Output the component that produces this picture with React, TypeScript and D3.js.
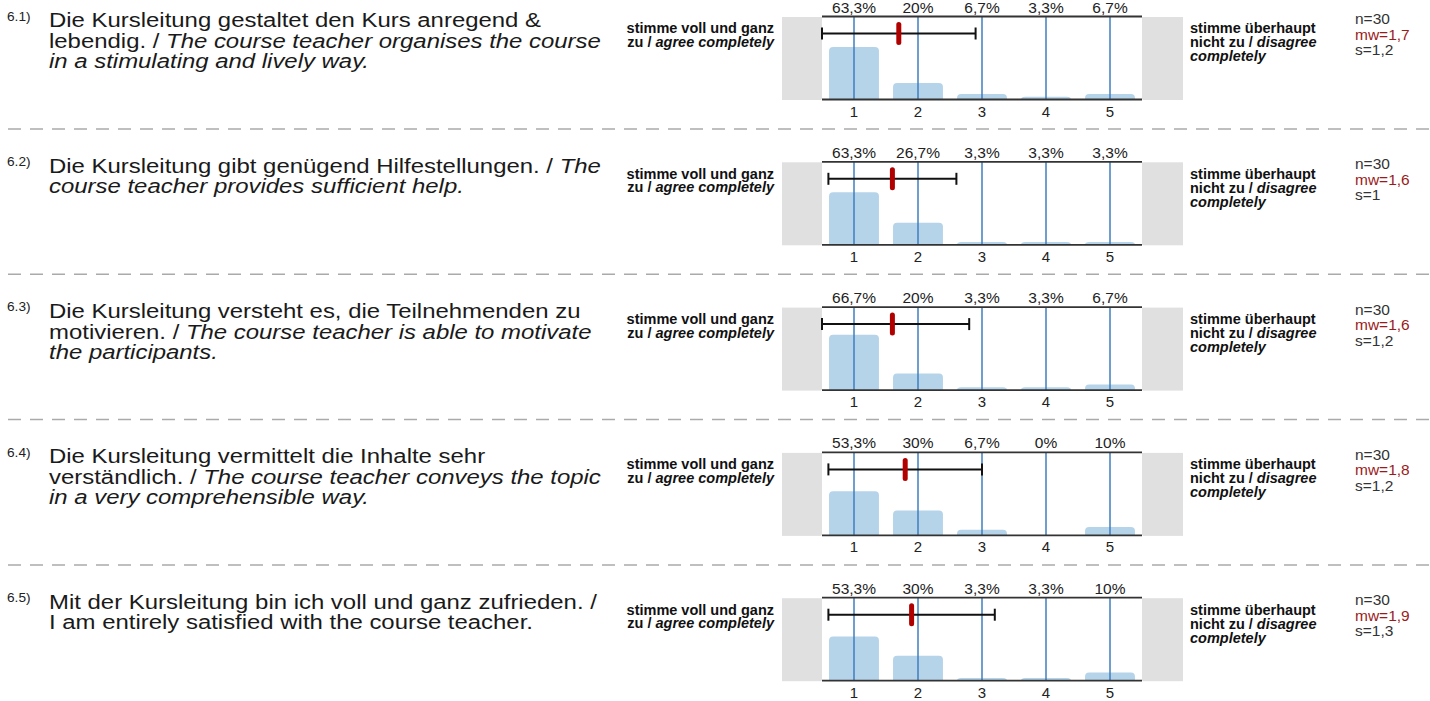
import React from 'react';
import * as d3 from 'd3';

// --- data ---
const categories = [1, 2, 3, 4, 5];

const itemIds = ['6.1)', '6.2)', '6.3)', '6.4)', '6.5)'];

// question text, line by line; [regular, italic]
const questionLines: Array<Array<[string, string]>> = [
  [
    ['Die Kursleitung gestaltet den Kurs anregend &', ''],
    ['lebendig. / ', 'The course teacher organises the course'],
    ['', 'in a stimulating and lively way.'],
  ],
  [
    ['Die Kursleitung gibt genügend Hilfestellungen. / ', 'The'],
    ['', 'course teacher provides sufficient help.'],
  ],
  [
    ['Die Kursleitung versteht es, die Teilnehmenden zu', ''],
    ['motivieren. / ', 'The course teacher is able to motivate'],
    ['', 'the participants.'],
  ],
  [
    ['Die Kursleitung vermittelt die Inhalte sehr', ''],
    ['verständlich. / ', 'The course teacher conveys the topic'],
    ['', 'in a very comprehensible way.'],
  ],
  [
    ['Mit der Kursleitung bin ich voll und ganz zufrieden. /', ''],
    ['I am entirely satisfied with the course teacher.', ''],
  ],
];

const percents = [
  [63.3, 20, 6.7, 3.3, 6.7],
  [63.3, 26.7, 3.3, 3.3, 3.3],
  [66.7, 20, 3.3, 3.3, 6.7],
  [53.3, 30, 6.7, 0, 10],
  [53.3, 30, 3.3, 3.3, 10],
];

const nValues = [30, 30, 30, 30, 30];
const means = [1.7, 1.6, 1.6, 1.8, 1.9];
const stdDevs = [1.2, 1, 1.2, 1.2, 1.3];

const fmt = (v: number) => String(v).replace('.', ',');

const W = 1430;
const H = 701;
const panelTop = 16.5;
const panelStep = 145.3;
const plotH = 83;
const stretch = 1.14; // question text is drawn a bit wide

const x = d3.scaleLinear().domain([0.5, 5.5]).range([822, 1142]);
const bandW = x(1.5) - x(0.5);
const barW = bandW * 0.78;

const Panel: React.FC<{ i: number }> = ({ i }) => {
  const top = panelTop + i * panelStep;
  const bottom = top + plotH;
  const y = d3.scaleLinear().domain([0, 100]).range([bottom, top]);
  const lo = Math.max(0.5, means[i] - stdDevs[i]);
  const hi = Math.min(5.5, means[i] + stdDevs[i]);
  const ey = top + 17;
  const lbl = { fontSize: 14.5, fontWeight: 'bold' as const, fill: '#111' };

  return (
    <g>
      {/* question */}
      <g transform={`translate(7,0) scale(${stretch},1)`}>
        <text x={0} y={top + 4.2} fontSize={12} fill="#222">{itemIds[i]}</text>
      </g>
      <g transform={`translate(49,0) scale(${stretch},1)`}>
        {questionLines[i].map((ln, k) => (
          <text key={k} x={0} y={top + 11 + k * 20.5} fontSize={21} fill="#1a1a1a">
            {ln[0] && <tspan>{ln[0]}</tspan>}
            {ln[1] && <tspan fontStyle="italic">{ln[1]}</tspan>}
          </text>
        ))}
      </g>

      {/* left / right anchors */}
      <rect x={782} y={top + 0.5} width={x(0.5) - 782} height={plotH} fill="#e0e0e0" />
      <rect x={x(5.5)} y={top + 0.5} width={1183 - x(5.5)} height={plotH} fill="#e0e0e0" />
      <text x={774} y={top + 16.8} textAnchor="end" {...lbl}>
        stimme voll und ganz
      </text>
      <text x={774} y={top + 30.5} textAnchor="end" {...lbl}>
        zu / <tspan fontStyle="italic">agree completely</tspan>
      </text>
      <text x={1190} y={top + 16.8} {...lbl}>
        stimme überhaupt
      </text>
      <text x={1190} y={top + 30.8} {...lbl}>
        nicht zu / <tspan fontStyle="italic">disagree</tspan>
      </text>
      <text x={1190} y={top + 44.8} fontStyle="italic" {...lbl}>
        completely
      </text>

      {/* bars */}
      {categories.map((c, k) =>
        percents[i][k] > 0 ? (
          <rect
            key={c}
            x={x(c) - barW / 2}
            y={y(percents[i][k])}
            width={barW}
            height={bottom - y(percents[i][k]) + 3}
            rx={4}
            fill="#b5d4ea"
          />
        ) : null
      )}
      <rect x={x(0.5) - 1} y={bottom} width={x(5.5) - x(0.5) + 2} height={6} fill="#fff" />

      {/* vertical grid lines */}
      {categories.map(c => (
        <line key={c} x1={x(c)} x2={x(c)} y1={top} y2={bottom} stroke="#3f7fbf" strokeWidth={1.5} />
      ))}

      {/* axes */}
      <line x1={x(0.5)} x2={x(5.5)} y1={top} y2={top} stroke="#333" strokeWidth={1.8} />
      <line x1={x(0.5)} x2={x(5.5)} y1={bottom} y2={bottom} stroke="#333" strokeWidth={1.8} />

      {/* percents on top */}
      {categories.map((c, k) => (
        <text key={c} x={x(c)} y={top - 4} fontSize={15.5} textAnchor="middle" fill="#222">
          {fmt(percents[i][k])}%
        </text>
      ))}
      {/* category ticks */}
      {categories.map(c => (
        <text key={c} x={x(c)} y={bottom + 17} fontSize={15} textAnchor="middle" fill="#222">
          {c}
        </text>
      ))}

      {/* mean +- sd */}
      <line x1={x(lo)} x2={x(hi)} y1={ey} y2={ey} stroke="#111" strokeWidth={2} />
      <line x1={x(lo)} x2={x(lo)} y1={ey - 6} y2={ey + 6} stroke="#111" strokeWidth={2} />
      <line x1={x(hi)} x2={x(hi)} y1={ey - 6} y2={ey + 6} stroke="#111" strokeWidth={2} />
      <line
        x1={x(means[i])}
        x2={x(means[i])}
        y1={ey - 9}
        y2={ey + 9}
        stroke="#b00000"
        strokeWidth={5}
        strokeLinecap="round"
      />

      {/* stats */}
      <text x={1355} y={top + 7.5} fontSize={15.5} fill="#333">n={nValues[i]}</text>
      <text x={1355} y={top + 23} fontSize={15.5} fill="#9b1b1b">mw={fmt(means[i])}</text>
      <text x={1355} y={top + 38.5} fontSize={15.5} fill="#333">s={fmt(stdDevs[i])}</text>

      {/* separator */}
      {i < 4 && (
        <line
          x1={8}
          x2={W}
          y1={top + 112.5}
          y2={top + 112.5}
          stroke="#aaa"
          strokeWidth={1.5}
          strokeDasharray="13,9"
        />
      )}
    </g>
  );
};

export default function App() {
  return (
    <svg
      width={W}
      height={H}
      style={{ position: 'absolute', left: 0, top: 0, background: '#fff' }}
      fontFamily="'Liberation Sans', Arial, sans-serif"
    >
      <rect width={W} height={H} fill="#fff" />
      {itemIds.map((_, i) => (
        <Panel key={i} i={i} />
      ))}
    </svg>
  );
}
